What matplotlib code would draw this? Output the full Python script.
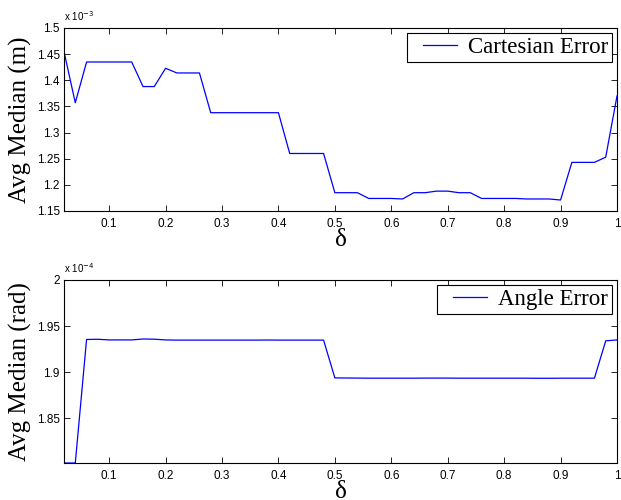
import numpy as np
import matplotlib
matplotlib.use("Agg")
import matplotlib.pyplot as plt
from matplotlib.ticker import FuncFormatter, MultipleLocator
from matplotlib.legend_handler import HandlerLine2D

# delta values (0.02 .. 1.00)
delta = np.round(np.arange(1, 51) * 0.02, 2)

# Cartesian error, in units of 1e-3 m
cart_err = [1.455, 1.357, 1.435, 1.435, 1.435, 1.435, 1.435, 1.388, 1.388, 1.423,
            1.414, 1.414, 1.414, 1.338, 1.338, 1.338, 1.338, 1.338, 1.338, 1.338,
            1.260, 1.260, 1.260, 1.260, 1.185, 1.185, 1.185, 1.174, 1.174, 1.174,
            1.173, 1.185, 1.185, 1.188, 1.188, 1.185, 1.185, 1.174, 1.174, 1.174,
            1.174, 1.173, 1.173, 1.173, 1.171, 1.243, 1.243, 1.243, 1.253, 1.370]

# Angle error, in units of 1e-4 rad
ang_err = [1.8015, 1.8015, 1.9355, 1.9357, 1.9350, 1.9350, 1.9350, 1.9360, 1.9358, 1.9350,
           1.9348, 1.9348, 1.9348, 1.9348, 1.9348, 1.9348, 1.9348, 1.9348, 1.9349, 1.9348,
           1.9348, 1.9348, 1.9348, 1.9348, 1.8938, 1.8937, 1.8936, 1.8935, 1.8935, 1.8935,
           1.8935, 1.8935, 1.8936, 1.8936, 1.8936, 1.8935, 1.8935, 1.8935, 1.8935, 1.8935,
           1.8935, 1.8935, 1.8934, 1.8934, 1.8935, 1.8935, 1.8935, 1.8935, 1.9340, 1.9350]

cart_err = np.array(cart_err) * 1e-3
ang_err = np.array(ang_err) * 1e-4

sans = "Liberation Sans"
serif = "Liberation Serif"


# legend line that leaves some blank room on its left, like MATLAB's legend
class OffsetLine(HandlerLine2D):
    def create_artists(self, legend, orig_handle, xdescent, ydescent, width,
                       height, fontsize, trans):
        gap = 0.5 * fontsize
        return super().create_artists(legend, orig_handle, xdescent - gap, ydescent,
                                      width - gap, height, fontsize, trans)


fig = plt.figure(figsize=(6.21, 5.0), dpi=100)
W, H = 621.0, 500.0
ax1 = fig.add_axes([64 / W, 1 - 211 / H, 553 / W, 183 / H])
ax2 = fig.add_axes([64 / W, 1 - 463 / H, 553 / W, 183 / H])


def style(ax, scale, exp):
    ax.set_xlim(0.02, 1)
    ax.xaxis.set_major_locator(MultipleLocator(0.1))
    ax.xaxis.set_major_formatter(FuncFormatter(lambda v, p: "%g" % round(v, 2)))
    ax.yaxis.set_major_formatter(FuncFormatter(lambda v, p: "%g" % round(v / scale, 3)))
    ax.tick_params(direction="in", top=True, right=True, length=4, width=0.6,
                   labelsize=8.5)
    ax.tick_params(axis="x", pad=5)
    ax.tick_params(axis="y", pad=3)
    for lab in ax.get_xticklabels() + ax.get_yticklabels():
        lab.set_fontfamily(sans)
    for s in ax.spines.values():
        s.set_linewidth(0.8)
    ax.text(0.0, 1.03, r"x 10$^{%d}$" % exp, transform=ax.transAxes,
            fontsize=7, fontfamily=sans, ha="left", va="bottom")
    ax.set_xlabel("δ", fontfamily=serif, fontsize=18, labelpad=-1)
    leg = ax.legend(loc="upper right", prop={"family": serif, "size": 16.5},
                    fancybox=False, edgecolor="black", framealpha=1,
                    borderpad=0.18, handlelength=2.0, handletextpad=0.48,
                    borderaxespad=0.2, handler_map={plt.Line2D: OffsetLine()})
    leg.get_frame().set_linewidth(0.8)


ax1.plot(delta, cart_err, color="blue", linewidth=0.9, label="Cartesian Error")
ax1.set_ylim(1.15e-3, 1.5e-3)
ax1.yaxis.set_major_locator(MultipleLocator(0.05e-3))
style(ax1, 1e-3, -3)
ax1.set_ylabel("Avg Median (m)", fontfamily=serif, fontsize=18)
ax1.yaxis.set_label_coords(-0.058, 0.5)

ax2.plot(delta, ang_err, color="blue", linewidth=0.9, label="Angle Error")
ax2.set_ylim(1.8015e-4, 2.0e-4)
ax2.set_yticks([1.85e-4, 1.9e-4, 1.95e-4, 2.0e-4])
style(ax2, 1e-4, -4)
ax2.set_ylabel("Avg Median (rad)", fontfamily=serif, fontsize=18)
ax2.yaxis.set_label_coords(-0.058, 0.5)

fig.savefig("out.png", dpi=100)
